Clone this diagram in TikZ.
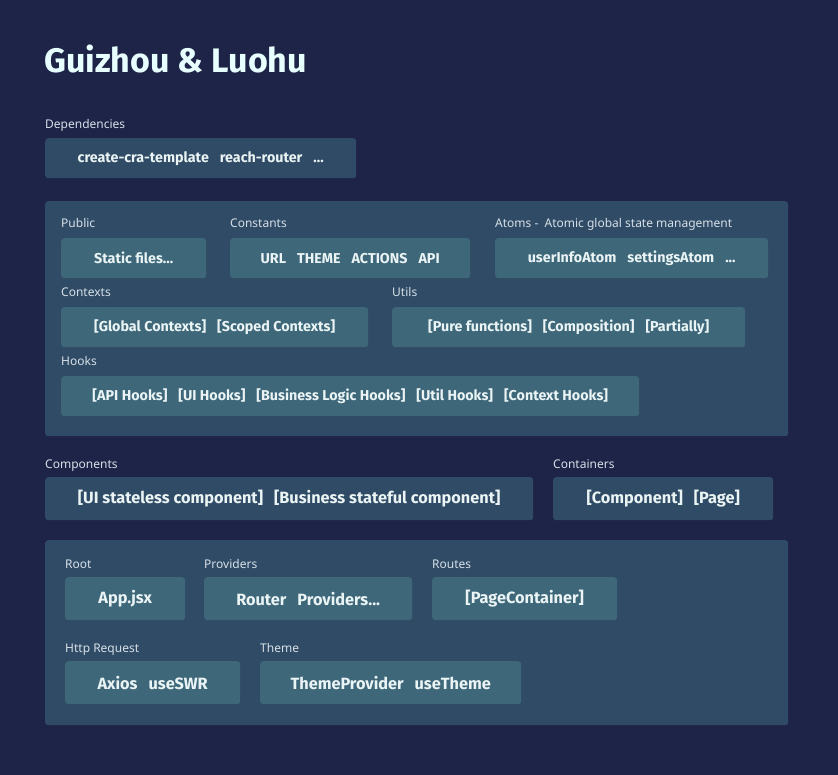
\documentclass[tikz,border=0pt]{standalone}
\usepackage{fontspec}
\setmainfont{Noto Sans}
\newfontfamily\bfont{Fira Sans}
\definecolor{bgc}{RGB}{30,36,72}
\definecolor{panelc}{RGB}{48,75,101}
\definecolor{innerc}{RGB}{62,103,122}
\definecolor{txtc}{RGB}{234,244,244}
\definecolor{lblc}{RGB}{214,224,232}
\definecolor{titlec}{RGB}{232,255,255}
\newcommand{\gap}{\hspace{11pt}}
\tikzset{
  panel/.style={fill=panelc, rounded corners=3pt, anchor=north west, inner sep=0pt, draw=none},
  inbox/.style={fill=innerc, rounded corners=3pt, anchor=north west, inner sep=0pt, text=txtc, font=\bfont\fontsize{14.3}{16}\selectfont\bfseries},
  pbox/.style={fill=panelc, rounded corners=3pt, anchor=north west, inner sep=0pt, text=txtc, font=\bfont\fontsize{14.3}{16}\selectfont\bfseries},
  bigtxt/.style={font=\bfont\fontsize{16.3}{18}\selectfont\bfseries},
  lbl/.style={anchor=base west, inner sep=0pt, text=lblc, font=\fontsize{12}{14}\selectfont},
}
\begin{document}
\begin{tikzpicture}[x=1pt,y=-1pt]
\fill[bgc] (0,0) rectangle (838,775);
\useasboundingbox (0,0) rectangle (838,775);
\node[anchor=base west, inner sep=0pt, text=titlec, font=\bfont\fontsize{34}{38}\selectfont\bfseries] (title) at (44,73) {Guizhou \& Luohu};
% Dependencies
\node[lbl] (ldep) at (45,129) {Dependencies};
\node[pbox, minimum width=311pt, minimum height=40pt] (dep) at (45,138) {create-cra-template\gap reach-router\gap ...};
% Panel 1
\node[panel, minimum width=743pt, minimum height=235pt] (p1) at (45,201) {};
\node[lbl] (lpub) at (61,228) {Public};
\node[inbox, minimum width=145pt, minimum height=40pt] (pub) at (61,238) {Static files...};
\node[lbl] (lcon) at (230,228) {Constants};
\node[inbox, minimum width=240pt, minimum height=40pt] (con) at (230,238) {URL\gap THEME\gap ACTIONS\gap API};
\node[lbl] (latom) at (495,228) {Atoms -\ \ Atomic global state management};
\node[inbox, minimum width=273pt, minimum height=40pt] (atom) at (495,238) {userInfoAtom\gap settingsAtom\gap ...};
\node[lbl] (lctx) at (61,297) {Contexts};
\node[inbox, minimum width=307pt, minimum height=40pt] (ctx) at (61,307) {[Global Contexts]\gap [Scoped Contexts]};
\node[lbl] (lutil) at (392,297) {Utils};
\node[inbox, minimum width=353pt, minimum height=40pt] (util) at (392,307) {[Pure functions]\gap [Composition]\gap [Partially]};
\node[lbl] (lhook) at (61,366) {Hooks};
\node[inbox, minimum width=578pt, minimum height=40pt] (hook) at (61,376) {[API Hooks]\gap [UI Hooks]\gap [Business Logic Hooks]\gap [Util Hooks]\gap [Context Hooks]};
% Components / Containers
\node[lbl] (lcomp) at (45,468) {Components};
\node[pbox, bigtxt, minimum width=488pt, minimum height=43pt] (comp) at (45,477) {[UI stateless component]\gap [Business stateful component]};
\node[lbl] (lcont) at (553,468) {Containers};
\node[pbox, bigtxt, minimum width=220pt, minimum height=43pt] (cont) at (553,477) {[Component]\gap [Page]};
% Panel 2
\node[panel, minimum width=743pt, minimum height=185pt] (p2) at (45,540) {};
\node[lbl] (lroot) at (65,568) {Root};
\node[inbox, bigtxt, minimum width=120pt, minimum height=43pt] (root) at (65,577) {App.jsx};
\node[lbl] (lprov) at (204,568) {Providers};
\node[inbox, bigtxt, minimum width=208pt, minimum height=43pt] (prov) at (204,577) {Router\gap Providers...};
\node[lbl] (lrout) at (432,568) {Routes};
\node[inbox, bigtxt, minimum width=185pt, minimum height=43pt] (rout) at (432,577) {[PageContainer]};
\node[lbl] (lhttp) at (65,652) {Http Request};
\node[inbox, bigtxt, minimum width=175pt, minimum height=43pt] (http) at (65,661) {Axios\gap useSWR};
\node[lbl] (ltheme) at (260,652) {Theme};
\node[inbox, bigtxt, minimum width=261pt, minimum height=43pt] (theme) at (260,661) {ThemeProvider\gap useTheme};
\end{tikzpicture}
\end{document}
